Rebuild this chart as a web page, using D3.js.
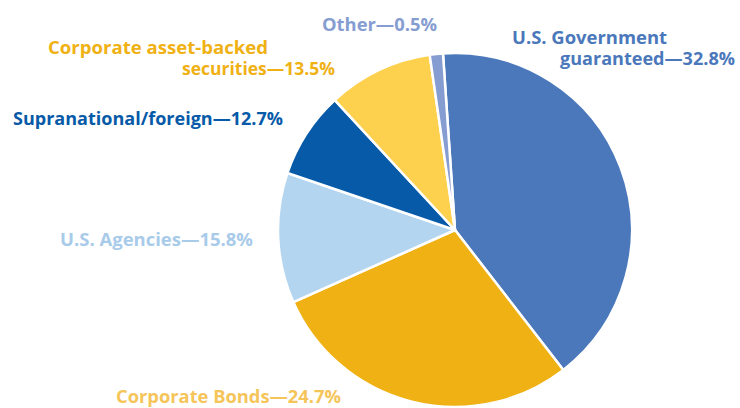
<!DOCTYPE html>
<html>
<head>
<meta charset="utf-8">
<script src="https://cdn.jsdelivr.net/npm/d3@7"></script>
<style>
  html, body { margin: 0; padding: 0; background: #fff; }
  svg { display: block; }
  text { font-family: "Open Sans", "DejaVu Sans", sans-serif; font-weight: 700; }
</style>
</head>
<body>
<svg id="chart" width="740" height="408"></svg>
<script>
// ---- data ----
const categories = ["U.S. Government guaranteed", "Corporate Bonds", "U.S. Agencies",
                    "Supranational/foreign", "Corporate asset-backed securities", "Other"];
const labelPercents = [32.8, 24.7, 15.8, 12.7, 13.5, 0.5];
// slice shares as drawn in the picture (%)
const sliceShares = [40.6, 28.8, 11.9, 7.9, 9.6, 1.2];
const labelLines = [
  ["U.S. Government", "guaranteed—32.8%"],
  ["Corporate Bonds—24.7%"],
  ["U.S. Agencies—15.8%"],
  ["Supranational/foreign—12.7%"],
  ["Corporate asset-backed", "securities—13.5%"],
  ["Other—0.5%"]
];

// ---- styles / layout ----
const sliceColors = ["#4a78bb", "#efb114", "#b4d5ef", "#065aa8", "#fdd04e", "#869dd1"];
const labelColors = ["#4a78bb", "#f5c55a", "#a9cbea", "#065aa8", "#efb114", "#869dd1"];
// per line: [x, baselineY, width]
const labelLayout = [
  [[512, 44, 155], [560, 65, 175]],
  [[116, 403, 225]],
  [[60, 246, 193]],
  [[13, 125, 270]],
  [[48, 54, 220], [182, 75, 153]],
  [[322, 31, 115]]
];

const svg = d3.select("#chart");
const cx = 455, cy = 230, r = 177;
const start = -3.9 * Math.PI / 180;

const pie = d3.pie().sort(null).value(d => d)
  .startAngle(start).endAngle(start + 2 * Math.PI);
const arc = d3.arc().innerRadius(0).outerRadius(r);

svg.append("g").attr("transform", `translate(${cx},${cy})`)
  .selectAll("path").data(pie(sliceShares)).join("path")
  .attr("d", arc)
  .attr("fill", (d, i) => sliceColors[i])
  .attr("stroke", "#fff")
  .attr("stroke-width", 2.5)
  .attr("stroke-linejoin", "round");

const lg = svg.append("g");
labelLines.forEach((lines, i) => {
  lines.forEach((t, j) => {
    const [x, y, w] = labelLayout[i][j];
    lg.append("text")
      .attr("x", x).attr("y", y)
      .attr("font-size", 18)
      .attr("fill", labelColors[i])
      .attr("textLength", w)
      .attr("lengthAdjust", "spacingAndGlyphs")
      .text(t);
  });
});
</script>
</body>
</html>
